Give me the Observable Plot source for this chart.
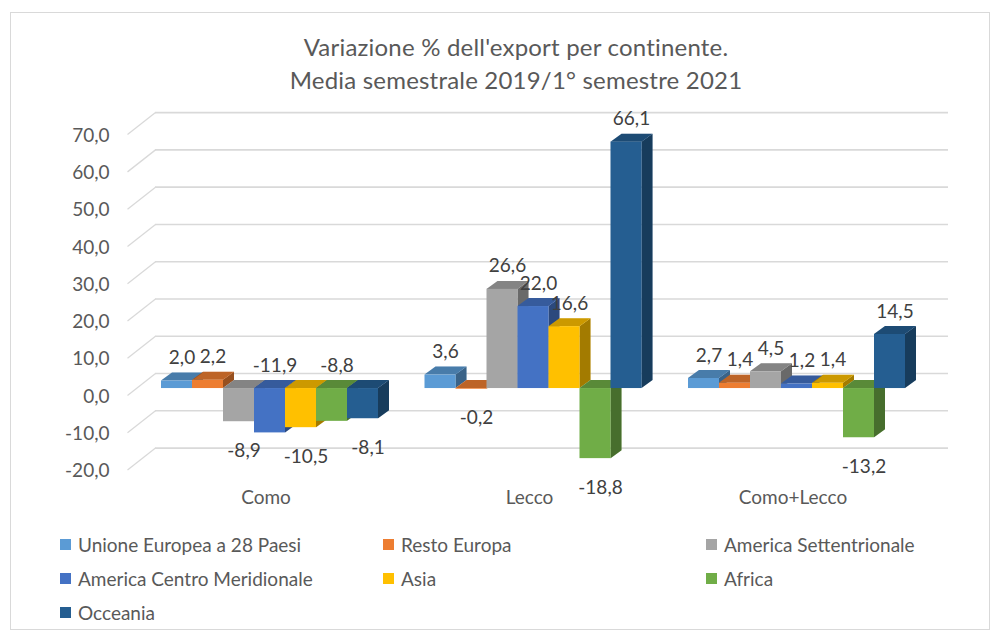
<!DOCTYPE html>
<html>
<head>
<meta charset="utf-8">
<script src="https://cdn.jsdelivr.net/npm/d3@7"></script>
<script src="https://cdn.jsdelivr.net/npm/@observablehq/plot@0.6"></script>
<style>
  html, body { margin: 0; padding: 0; background: #fff; }
  body { width: 998px; height: 635px; position: relative; overflow: hidden; font-family: Lato, "Open Sans", sans-serif; }
  #frame { position: absolute; left: 10px; top: 12px; width: 980px; height: 618px; box-sizing: border-box; border: 1px solid #d9d9d9; }
  #title { position: absolute; left: 166px; width: 700px; top: 30px; text-align: center; color: #595959; font-size: 24px; font-weight: 400; line-height: 33px; letter-spacing: 0.2px; }
  #chart { position: absolute; left: 0; top: 100px; }
  #legend { position: absolute; left: 60px; top: 527px; display: grid; grid-template-columns: 323px 323px 260px; grid-auto-rows: 34px; color: #595959; font-size: 19px; }
  .item { display: flex; align-items: center; white-space: nowrap; }
  .sw { width: 11px; height: 11px; margin-right: 7px; flex: none; }
</style>
</head>
<body>
<div id="frame"></div>
<div id="title">Variazione % dell'export per continente.<br>Media semestrale 2019/1° semestre 2021</div>
<div id="chart"></div>
<div id="legend"></div>
<script>
// ---------- DATA ----------
const groups = ["Como", "Lecco", "Como+Lecco"];
const series = [
  "Unione Europea a 28 Paesi",
  "Resto Europa",
  "America Settentrionale",
  "America Centro Meridionale",
  "Asia",
  "Africa",
  "Occeania"
];
const colors = ["#5B9BD5", "#ED7D31", "#A5A5A5", "#4472C4", "#FFC000", "#70AD47", "#255E91"];
const como      = [2.0, 2.2, -8.9, -11.9, -10.5, -8.8, -8.1];
const lecco     = [3.6, -0.2, 26.6, 22.0, 16.6, -18.8, 66.1];
const comoLecco = [2.7, 1.4, 4.5, 1.2, 1.4, -13.2, 14.5];
const yTicks = [-20, -10, 0, 10, 20, 30, 40, 50, 60, 70];

// ---------- LAYOUT ----------
const W = 998, H = 420;
const N = series.length, GAP = 1.5;
const xDomain = [0, (groups.length - 1) * (N + GAP) + N];
const yDomain = [-20, 70];
const xRange = [161, 905];
const yRange = [362.6, 27.1];
const kx = (xRange[1] - xRange[0]) / (xDomain[1] - xDomain[0]);
const ky = (yRange[0] - yRange[1]) / (yDomain[1] - yDomain[0]);
const DX = 11 / kx, DY = 8 / ky;               // bar depth (data units)
const wallFront = -34 / kx, wallBack = -6 / kx, wallRight = 787 / kx;

const locale = d3.formatLocale({decimal: ",", thousands: ".", grouping: [3], currency: ["", "€"], minus: "-"});
const fmt = locale.format(".1f");

const rows = [];
[como, lecco, comoLecco].forEach((vals, g) =>
  vals.forEach((v, s) => rows.push({id: g * N + s, group: groups[g], series: series[s], value: v, x: g * (N + GAP) + s}))
);

// 3D faces
const tops = [], sides = [];
for (const r of rows) {
  const t = Math.max(r.value, 0), b = Math.min(r.value, 0);
  tops.push(
    {id: r.id, series: r.series, x: r.x,          y1: t,      y2: t},
    {id: r.id, series: r.series, x: r.x + DX,     y1: t,      y2: t + DY},
    {id: r.id, series: r.series, x: r.x + 1,      y1: t,      y2: t + DY},
    {id: r.id, series: r.series, x: r.x + 1 + DX, y1: t + DY, y2: t + DY}
  );
  sides.push(
    {id: r.id, series: r.series, x: r.x + 1,      y1: b,      y2: t},
    {id: r.id, series: r.series, x: r.x + 1 + DX, y1: b + DY, y2: t + DY}
  );
}

// label placement: default by sign, flipped when colliding with previous label
const labels = [];
groups.forEach((gname, g) => {
  let prev = null;
  rows.filter(r => r.group === gname).forEach(r => {
    const text = fmt(r.value);
    let above = r.value >= 0;
    const yPix = v => v * ky;
    const ly = (ab) => ab ? yPix(Math.max(r.value, 0)) + 23 : yPix(Math.min(r.value, 0)) - 29;
    if (prev && prev.above === above) {
      const wOverlap = (prev.text.length + text.length) * 10 / 2 > kx + 2;
      const vOverlap = Math.abs(prev.ly - ly(above)) < 16;
      if (wOverlap && vOverlap) above = !above;
    }
    const lab = {...r, text, above, ly: ly(above)};
    labels.push(lab);
    prev = lab;
  });
});

const chart = Plot.plot({
  width: W, height: H,
  margin: 0,
  x: {type: "linear", domain: xDomain, range: xRange, axis: null},
  y: {domain: yDomain, range: yRange, axis: null},
  color: {domain: series, range: colors},
  style: {fontFamily: "Lato, 'Open Sans', sans-serif", background: "transparent", overflow: "visible"},
  marks: [
    // back-wall gridlines and left-wall diagonals
    Plot.ruleY(yTicks, {x1: wallBack, x2: wallRight, y: d => d, dy: -15, stroke: "#d9d9d9", strokeWidth: 1.6}),
    Plot.link(yTicks, {x1: wallFront, y1: d => d - 7 / ky, x2: wallBack, y2: d => d + 15 / ky, stroke: "#d9d9d9", strokeWidth: 1.3}),
    // axis tick labels
    Plot.text(yTicks, {x: wallFront, y: d => d, text: d => fmt(d), textAnchor: "end", dx: -18, dy: 8, fill: "#595959", fontSize: 19}),
    // bar sides
    Plot.area(sides, {x1: "x", y1: "y1", y2: "y2", z: "id", fill: "series"}),
    Plot.area(sides, {x1: "x", y1: "y1", y2: "y2", z: "id", fill: "black", fillOpacity: 0.36}),
    // bar tops
    Plot.area(tops, {x1: "x", y1: "y1", y2: "y2", z: "id", fill: "series"}),
    Plot.area(tops, {x1: "x", y1: "y1", y2: "y2", z: "id", fill: "black", fillOpacity: 0.2}),
    // bar fronts
    Plot.rect(rows, {x1: "x", x2: d => d.x + 1, y1: () => 0, y2: "value", fill: "series"}),
    // value labels
    Plot.text(labels.filter(d => d.above), {x: d => d.x + 0.5, y: d => Math.max(d.value, 0), text: "text", dx: 5, dy: -23, fill: "#404040", fontSize: 19}),
    Plot.text(labels.filter(d => !d.above), {x: d => d.x + 0.5, y: d => Math.min(d.value, 0), text: "text", dx: 5, dy: 29, fill: "#404040", fontSize: 19}),
    // category labels
    Plot.text(groups, {x: (d, i) => i * (N + GAP) + N / 2, y: () => yDomain[0], text: d => d, dx: -4, dy: 35, fill: "#595959", fontSize: 19})
  ]
});
document.getElementById("chart").appendChild(chart);

// legend
const legend = document.getElementById("legend");
series.forEach((s, i) => {
  const item = document.createElement("div");
  item.className = "item";
  const sw = document.createElement("span");
  sw.className = "sw";
  sw.style.background = colors[i];
  item.appendChild(sw);
  item.appendChild(document.createTextNode(s));
  legend.appendChild(item);
});
</script>
</body>
</html>
